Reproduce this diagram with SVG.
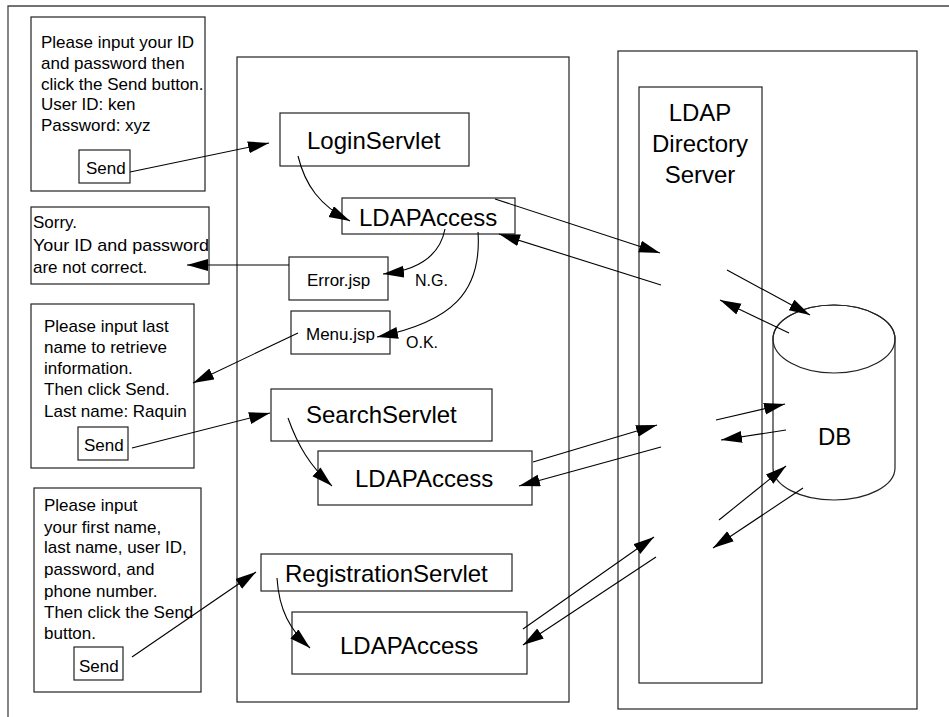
<svg xmlns="http://www.w3.org/2000/svg" width="949" height="717" viewBox="0 0 949 717">
<defs>
<style>
.box{fill:#fff;stroke:#222;stroke-width:1.2}
.frame{fill:none;stroke:#444;stroke-width:1.3}
.t{font-family:"Liberation Sans",Arial,sans-serif;fill:#000}
.s{font-size:17px}
.l{font-size:24px}
.c{stroke:#000;stroke-width:1.1;fill:none;marker-end:url(#ah)}
</style>
<marker id="ah" markerUnits="userSpaceOnUse" markerWidth="22" markerHeight="14" refX="21" refY="6" orient="auto">
<path d="M0,0 L21,6 L0,12 Z" fill="#000"/>
</marker>
</defs>
<polyline class="frame" points="8,717 8,6 949,6"/>

<g id="login-form">
<rect class="box" x="31" y="17" width="174" height="174"/>
<text class="t s" x="41" y="48">Please input your ID</text>
<text class="t s" x="41" y="69">and password then</text>
<text class="t s" x="41" y="90">click the Send button.</text>
<text class="t s" x="41" y="110">User ID: ken</text>
<text class="t s" x="41" y="131">Password: xyz</text>
<rect class="box" x="79" y="150" width="51" height="33"/>
<text class="t s" x="86" y="174">Send</text>
</g>

<g id="sorry-page">
<rect class="box" x="31" y="207" width="178" height="77"/>
<text class="t s" x="33" y="228">Sorry.</text>
<text class="t s" x="33" y="251" textLength="176" lengthAdjust="spacingAndGlyphs">Your ID and password</text>
<text class="t s" x="33" y="273">are not correct.</text>
</g>

<g id="search-form">
<rect class="box" x="31" y="304" width="163" height="164"/>
<text class="t s" x="44" y="332">Please input last</text>
<text class="t s" x="44" y="353">name to retrieve</text>
<text class="t s" x="44" y="374">information.</text>
<text class="t s" x="44" y="395">Then click Send.</text>
<text class="t s" x="44" y="417">Last name: Raquin</text>
<rect class="box" x="78" y="427" width="50" height="33"/>
<text class="t s" x="84" y="451">Send</text>
</g>

<g id="registration-form">
<rect class="box" x="34" y="488" width="167" height="204"/>
<text class="t s" x="44" y="511">Please input</text>
<text class="t s" x="44" y="533">your first name,</text>
<text class="t s" x="44" y="553">last name, user ID,</text>
<text class="t s" x="44" y="575">password, and</text>
<text class="t s" x="44" y="597">phone number.</text>
<text class="t s" x="44" y="618">Then click the Send</text>
<text class="t s" x="44" y="639">button.</text>
<rect class="box" x="74" y="647" width="49" height="33"/>
<text class="t s" x="79" y="672">Send</text>
</g>

<g id="app-server">
<rect class="box" x="237" y="57" width="332" height="645"/>
</g>

<g id="login-servlet">
<rect class="box" x="280" y="113" width="189" height="53"/>
<text class="t l" x="307" y="149">LoginServlet</text>
</g>
<g id="ldap-access-1">
<rect class="box" x="342" y="198" width="173" height="36"/>
<text class="t l" x="359" y="226">LDAPAccess</text>
</g>
<g id="error-jsp">
<rect class="box" x="289" y="257" width="99" height="43"/>
<text class="t s" x="307" y="286">Error.jsp</text>
</g>
<g id="menu-jsp">
<rect class="box" x="291" y="311" width="99" height="43"/>
<text class="t s" x="306" y="340">Menu.jsp</text>
</g>
<g id="search-servlet">
<rect class="box" x="271" y="389" width="221" height="52"/>
<text class="t l" x="306" y="423">SearchServlet</text>
</g>
<g id="ldap-access-2">
<rect class="box" x="318" y="451" width="214" height="54"/>
<text class="t l" x="355" y="487">LDAPAccess</text>
</g>
<g id="registration-servlet">
<rect class="box" x="261" y="554" width="251" height="37"/>
<text class="t l" x="285" y="582">RegistrationServlet</text>
</g>
<g id="ldap-access-3">
<rect class="box" x="292" y="612" width="235" height="62"/>
<text class="t l" x="340" y="654">LDAPAccess</text>
</g>

<g id="ldap-host">
<rect class="box" x="618" y="51" width="299" height="658"/>
</g>
<g id="ldap-server">
<rect class="box" x="639" y="87" width="123" height="596"/>
<text class="t l" x="700" y="121" text-anchor="middle">LDAP</text>
<text class="t l" x="700" y="152" text-anchor="middle">Directory</text>
<text class="t l" x="700" y="183" text-anchor="middle">Server</text>
</g>
<g id="db">
<path class="box" d="M773,339 L773,468 A61,32 0 0 0 895,468 L895,339 A61,34 0 0 0 773,339 Z"/>
<ellipse cx="834" cy="339" rx="61" ry="34" fill="none" stroke="#222" stroke-width="1.2"/>
<text class="t l" x="818" y="445">DB</text>
</g>

<g id="connectors">
<line class="c" x1="130" y1="172" x2="269" y2="143"/>
<path class="c" d="M298,156 C305,185 320,206 350,221"/>
<path class="c" d="M445,229 C440,255 420,270 383,274"/>
<path class="c" d="M478,232 C482,292 452,322 377,337"/>
<line x1="289" y1="265" x2="187" y2="265" class="c"/>
<text class="t" style="font-size:16px" x="415" y="286">N.G.</text>
<text class="t" style="font-size:16px" x="406" y="348">O.K.</text>
<line class="c" x1="298" y1="333" x2="193" y2="383"/>
<line class="c" x1="132" y1="448" x2="270" y2="413"/>
<path class="c" d="M288,418 C298,446 310,466 332,486"/>
<line class="c" x1="132" y1="657" x2="256" y2="572"/>
<path class="c" d="M277,578 C279,610 290,630 310,648"/>

<line class="c" x1="495" y1="199" x2="660" y2="253"/>
<line class="c" x1="661" y1="285" x2="499" y2="234"/>
<line class="c" x1="727" y1="270" x2="810" y2="315"/>
<line class="c" x1="789" y1="333" x2="720" y2="300"/>

<line class="c" x1="533" y1="462" x2="657" y2="425"/>
<line class="c" x1="661" y1="447" x2="519" y2="486"/>
<line class="c" x1="716" y1="420" x2="785" y2="404"/>
<line class="c" x1="786" y1="430" x2="721" y2="440"/>

<line class="c" x1="719" y1="520" x2="786" y2="466"/>
<line class="c" x1="803" y1="488" x2="713" y2="548"/>
<line class="c" x1="523" y1="629" x2="654" y2="537"/>
<line class="c" x1="656" y1="557" x2="523" y2="645"/>
</g>
</svg>
